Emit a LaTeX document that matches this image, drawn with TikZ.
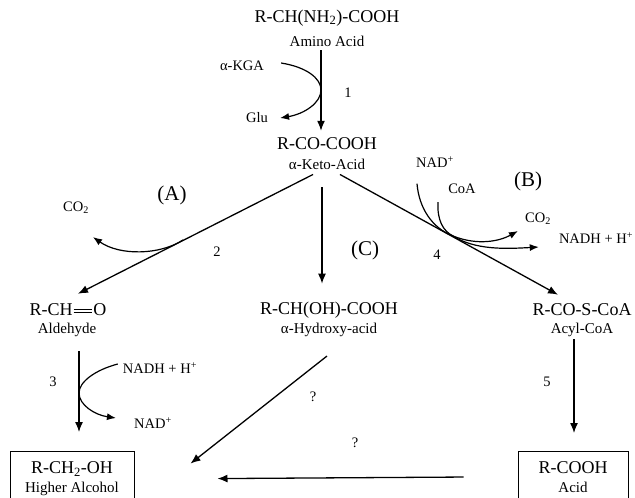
\documentclass[tikz,border=0pt]{standalone}
\usepackage{fontspec}
\setmainfont{Liberation Serif}
\usetikzlibrary{arrows.meta}

% double bond of the aldehyde
\newcommand{\dbond}{\kern1pt\rlap{\raisebox{0.75ex}{\rule{1.05em}{0.06em}}}\raisebox{0.33ex}{\rule{1.05em}{0.06em}}\kern1pt}

\begin{document}
\begin{tikzpicture}[x=1pt,y=-1pt,
    frm/.style={font=\fontsize{18}{20}\selectfont,inner sep=1pt},
    nam/.style={font=\fontsize{15}{17}\selectfont,inner sep=1pt},
    lbl/.style={font=\fontsize{14.5}{16}\selectfont,inner sep=1pt},
    grp/.style={font=\fontsize{21}{23}\selectfont,inner sep=1pt},
    endbox/.style={draw,line width=1pt,align=center,minimum width=124pt,inner xsep=4pt,inner ysep=10pt,
        font=\fontsize{18}{20}\selectfont},
    rxn/.style={line width=1.3pt,-{Latex[length=10pt,width=8pt]}},
    side/.style={line width=1.2pt,-{Latex[length=9pt,width=7pt]}},
    plain/.style={line width=1.2pt}]
\useasboundingbox (0,0) rectangle (635,498);

% compounds
\node[frm] (amino) at (327,18) {R-CH(NH\textsubscript{2})-COOH};
\node[nam] (aminoN) at (327,41) {Amino Acid};
\node[frm] (keto) at (327,144) {R-CO-COOH};
\node[nam] (ketoN) at (327,164) {α-Keto-Acid};
\node[frm] (ald) at (68,310) {R-CH\dbond O};
\node[nam] (aldN) at (67,330) {Aldehyde};
\node[frm] (hyd) at (329,310) {R-CH(OH)-COOH};
\node[nam] (hydN) at (329,330) {α-Hydroxy-acid};
\node[frm] (acyl) at (582,310) {R-CO-S-CoA};
\node[nam] (acylN) at (582,330) {Acyl-CoA};
\node[endbox,anchor=north] (alc) at (72,451)
    {R-CH\textsubscript{2}-OH\\[-1pt]{\fontsize{15}{17}\selectfont Higher Alcohol}};
\node[endbox,anchor=north,minimum width=110pt] (acid) at (573,451)
    {R-COOH\\[-1pt]{\fontsize{15}{17}\selectfont Acid}};

% co-substrates
\node[lbl] (kga) at (242,66) {α-KGA};
\node[lbl] (glu) at (257,118) {Glu};
\node[lbl] (co2a) at (76,208) {CO\textsubscript{2}};
\node[lbl] (nadp4) at (435,162) {NAD\textsuperscript{+}};
\node[lbl] (coa) at (462,189) {CoA};
\node[lbl] (co2b) at (538,219) {CO\textsubscript{2}};
\node[lbl] (nadh4) at (596,238) {NADH + H\textsuperscript{+}};
\node[lbl] (nadh3) at (160,368) {NADH + H\textsuperscript{+}};
\node[lbl] (nad3) at (153,423) {NAD\textsuperscript{+}};

% step numbers and pathways
\node[lbl] (s1) at (348,93) {1};
\node[lbl] (s2) at (217,252) {2};
\node[lbl] (s3) at (53,382) {3};
\node[lbl] (s4) at (437,255) {4};
\node[lbl] (s5) at (547,382) {5};
\node[grp] (pA) at (172,195) {(A)};
\node[grp] (pB) at (528,181) {(B)};
\node[grp] (pC) at (365,250) {(C)};
\node[lbl] (q1) at (313,397) {?};
\node[lbl] (q2) at (355,443) {?};

% touch points on the main arrows
\coordinate (t1) at (321,90);
\coordinate (t2) at (183,240);
\coordinate (t3) at (79,393);
\coordinate (t4) at (453,236);

% main arrows
\draw[rxn] ([xshift=-6pt,yshift=-3pt]aminoN.south) -- ([xshift=-6pt,yshift=6pt]keto.north);
\draw[rxn] ([xshift=-14pt,yshift=-4pt]ketoN.south) -- ([xshift=10pt,yshift=9pt]ald.north);
\draw[rxn] ([xshift=-5pt,yshift=-17pt]ketoN.south) -- ([xshift=-7pt,yshift=17pt]hyd.north);
\draw[rxn] ([xshift=13pt,yshift=-4pt]ketoN.south) -- ([xshift=-24pt,yshift=8pt]acyl.north);
\draw[rxn] ([xshift=12pt,yshift=-13pt]aldN.south) -- ([xshift=7pt,yshift=19pt]alc.north);
\draw[rxn] ([xshift=-8pt,yshift=-1pt]acylN.south) -- ([xshift=1pt,yshift=18pt]acid.north);
\draw[rxn] ([xshift=-2pt,yshift=-18pt]hydN.south) -- ([xshift=56pt,yshift=15pt]alc.east);
\draw[rxn] ([xshift=-54pt]acid.west) -- ([xshift=83pt]alc.east);

% side reactions
\draw[side] ([xshift=16pt,yshift=3pt]kga.east) .. controls (306,67) and (321,78) .. (t1)
    .. controls (321,103) and (304,114) .. ([xshift=11pt]glu.east);
\draw[side] (t2) .. controls (160,255) and (120,256) .. ([xshift=17pt,yshift=-22pt]co2a.south);
\draw[side] ([xshift=-4pt,yshift=4pt]nadh3.west) .. controls (95,370) and (79,382) .. (t3)
    .. controls (79,405) and (95,415) .. ([xshift=-17pt,yshift=5pt]nad3.west);
\draw[plain] ([xshift=-18pt,yshift=-15pt]nadp4.south) .. controls (419,208) and (432,228) .. (t4);
\draw[plain] ([xshift=-24pt,yshift=-7pt]coa.south) .. controls (437,220) and (443,231) .. (t4);
\draw[side] (t4) .. controls (478,246) and (500,241) .. ([xshift=-6pt,yshift=-12pt]co2b.west);
\draw[side] (t4) .. controls (475,250) and (505,249) .. ([xshift=-19pt,yshift=-9pt]nadh4.west);
\end{tikzpicture}
\end{document}
